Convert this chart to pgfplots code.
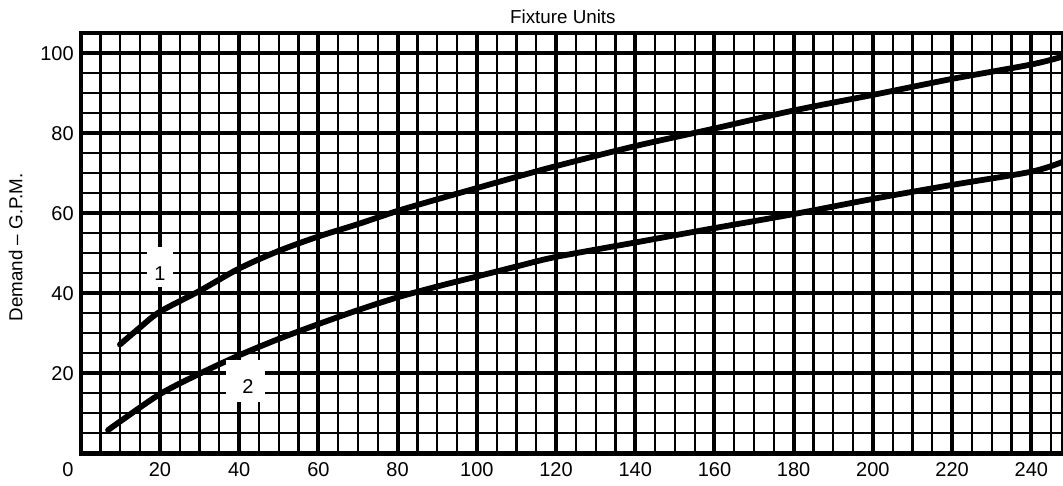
\documentclass[border=0pt]{standalone}
\usepackage{fontspec}
\setmainfont{Liberation Sans}
\usepackage{pgfplots}
\pgfplotsset{compat=1.18}
\begin{document}
\begin{tikzpicture}
\useasboundingbox (-40.375pt,-15.85pt) rectangle (491.1pt,226.65pt);
\begin{axis}[
  at={(0,0)}, anchor=south west,
  width=491.1pt, height=210pt, scale only axis,
  xmin=0, xmax=248, ymin=0, ymax=105,
  xtick={20,40,...,240}, ytick={20,40,...,100},
  minor xtick={5,10,15,25,30,35,45,50,55,65,70,75,85,90,95,105,110,115,125,130,135,145,150,155,165,170,175,185,190,195,205,210,215,225,230,235,245},
  minor ytick={5,10,15,25,30,35,45,50,55,65,70,75,85,90,95},
  grid=both,
  major grid style={black, line width=2.0pt},
  minor grid style={black, line width=1.1pt},
  axis line style={black, line width=2.2pt},
  major tick length=0pt, minor tick length=0pt,
  /pgf/number format/assume math mode=true,
  ticklabel style={font=\fontsize{10}{12}\selectfont},
  xticklabel style={anchor=center, yshift=-8.35pt},
  yticklabel style={anchor=east},
  clip=false,
]
\addplot[black, line width=2.9pt, line cap=round, smooth] coordinates {
(9.9,27.2) (15,31.5) (20,35.4) (30,40.6) (40,46.2) (50,50.6) (60,54.2) (70,57.3)
(80,60.6) (90,63.5) (100,66.3) (110,69.1) (120,71.8) (140,76.8) (160,81.2)
(180,85.7) (200,89.6) (220,93.6) (240,97.2) (248,99.2)};
\addplot[black, line width=2.9pt, line cap=round, smooth] coordinates {
(6.9,5.8) (10,8.0) (20,14.8) (30,19.9) (40,24.5) (50,28.6) (60,32.3) (70,35.8)
(80,39.0) (90,41.7) (100,44.2) (110,46.7) (120,49.1) (140,52.7) (160,56.3)
(180,59.8) (200,63.6) (220,67.1) (240,70.4) (248,72.9)};
\node[fill=white, inner sep=0pt, minimum width=13.3pt, minimum height=20pt] at (axis cs:20,46.6) {};
\node[inner sep=0pt, font=\fontsize{10}{12}\selectfont] at (axis cs:20,45) {1};
\node[fill=white, inner sep=0pt, minimum width=19.2pt, minimum height=20.8pt] at (axis cs:41.6,18.1) {};
\node[inner sep=0pt, font=\fontsize{10}{12}\selectfont] at (axis cs:42.2,16.6) {2};
\node[inner sep=0pt, font=\fontsize{10}{12}\selectfont] at ([shift={(-6.4pt,-8.35pt)}]axis cs:0,0) {0};
\node[inner sep=0pt, font=\fontsize{9.4}{11}\selectfont] at ([shift={(-4.5pt,8.2pt)}]rel axis cs:0.5,1) {Fixture Units};
\node[inner sep=0pt, rotate=90, font=\fontsize{9.4}{11}\selectfont] at ([shift={(-32.6pt,-2.1pt)}]rel axis cs:0,0.5) {Demand \textendash{} G.P.M.};
\end{axis}
\end{tikzpicture}
\end{document}
